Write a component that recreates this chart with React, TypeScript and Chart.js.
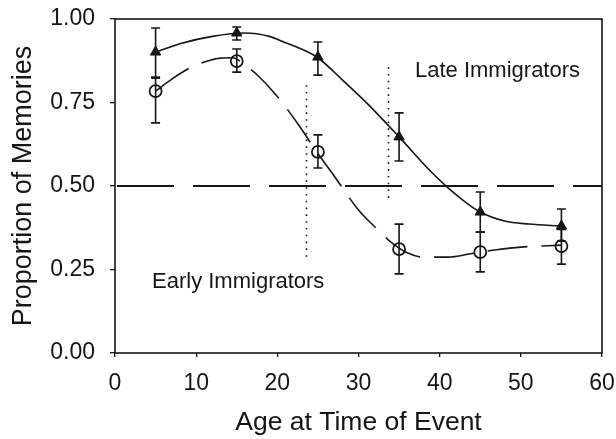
import { useEffect, useRef } from 'react';
import { Chart, registerables } from 'chart.js';

Chart.register(...registerables);

// ---- data ----
const ages = [5, 15, 25, 35, 45, 55];

const lateMean = [0.901, 0.958, 0.886, 0.647, 0.422, 0.38];
const lateLow = [0.823, 0.937, 0.832, 0.575, 0.362, 0.335];
const lateHigh = [0.973, 0.976, 0.931, 0.719, 0.482, 0.431];

const earlyMean = [0.784, 0.874, 0.602, 0.311, 0.302, 0.32];
const earlyLow = [0.689, 0.841, 0.554, 0.237, 0.243, 0.266];
const earlyHigh = [0.826, 0.91, 0.653, 0.386, 0.362, 0.37];

// fitted curves
const lateFitX = [5, 8, 12, 16, 19, 21, 23, 25, 28, 31, 35, 39, 41, 43, 45, 48, 51, 55];
const lateFitY = [0.901, 0.926, 0.948, 0.958, 0.948, 0.929, 0.91, 0.884, 0.818, 0.749, 0.647, 0.541, 0.495, 0.455, 0.422, 0.395, 0.386, 0.38];

const earlyFitX = [5, 7, 9.5, 11, 13, 14.5, 16, 17.5, 20, 22.5, 25, 27, 30, 32, 34, 36, 38, 41, 44, 47, 50, 55];
const earlyFitY = [0.784, 0.82, 0.857, 0.871, 0.883, 0.884, 0.862, 0.833, 0.768, 0.687, 0.597, 0.53, 0.428, 0.378, 0.332, 0.3, 0.287, 0.287, 0.298, 0.309, 0.317, 0.323];

const chanceLevel = 0.5;
const dividerX = [23.5, 33.6];
const dividerTop = [0.802, 0.856];
const dividerBottom = [0.287, 0.449];

const xTickValues = [0, 10, 20, 30, 40, 50, 60];
const yTickValues = [0, 0.25, 0.5, 0.75, 1.0];

const FONT = '"Liberation Sans", Arial, Helvetica, sans-serif';
const INK = '#161616';

const decor = {
  id: 'decor',
  beforeDatasetsDraw(chart: any) {
    const { ctx, scales } = chart;
    const x = scales.x;
    const y = scales.y;
    ctx.save();
    ctx.strokeStyle = INK;
    // chance line
    ctx.lineWidth = 1.8;
    ctx.setLineDash([57, 19]);
    ctx.lineDashOffset = -2;
    ctx.beginPath();
    ctx.moveTo(x.getPixelForValue(xTickValues[0]), y.getPixelForValue(chanceLevel));
    ctx.lineTo(x.getPixelForValue(xTickValues[xTickValues.length - 1]), y.getPixelForValue(chanceLevel));
    ctx.stroke();
    // dotted dividers
    ctx.lineDashOffset = 0;
    ctx.lineWidth = 1.6;
    ctx.setLineDash([1.6, 5.2]);
    for (let i = 0; i < dividerX.length; i++) {
      const px = Math.round(x.getPixelForValue(dividerX[i])) + 0.5;
      ctx.beginPath();
      ctx.moveTo(px, y.getPixelForValue(dividerTop[i]));
      ctx.lineTo(px, y.getPixelForValue(dividerBottom[i]));
      ctx.stroke();
    }
    // error bars
    ctx.setLineDash([]);
    ctx.lineWidth = 1.6;
    const cap = 4.5;
    const bars = (lo: number[], hi: number[]) => {
      for (let i = 0; i < ages.length; i++) {
        const px = x.getPixelForValue(ages[i]);
        const yl = y.getPixelForValue(lo[i]);
        const yh = y.getPixelForValue(hi[i]);
        ctx.beginPath();
        ctx.moveTo(px, yl);
        ctx.lineTo(px, yh);
        ctx.moveTo(px - cap, yl);
        ctx.lineTo(px + cap, yl);
        ctx.moveTo(px - cap, yh);
        ctx.lineTo(px + cap, yh);
        ctx.stroke();
      }
    };
    bars(lateLow, lateHigh);
    bars(earlyLow, earlyHigh);
    ctx.restore();
  },
  afterDraw(chart: any) {
    const { ctx, chartArea, scales } = chart;
    const x = scales.x;
    const y = scales.y;
    ctx.save();
    ctx.strokeStyle = INK;
    ctx.lineWidth = 1.6;
    ctx.setLineDash([]);
    ctx.strokeRect(chartArea.left, chartArea.top, chartArea.right - chartArea.left, chartArea.bottom - chartArea.top);
    ctx.fillStyle = INK;
    ctx.font = `22px ${FONT}`;
    ctx.textBaseline = 'alphabetic';
    ctx.textAlign = 'left';
    ctx.fillText('Late Immigrators', x.getPixelForValue(36.96), y.getPixelForValue(0.826));
    ctx.fillText('Early Immigrators', x.getPixelForValue(4.56), y.getPixelForValue(0.195));
    ctx.restore();
  },
};

export default function App() {
  const ref = useRef<HTMLCanvasElement | null>(null);

  useEffect(() => {
    if (!ref.current) return;
    const pts = (xs: number[], ys: number[]) => xs.map((v, i) => ({ x: v, y: ys[i] }));
    const chart = new Chart(ref.current, {
      type: 'scatter',
      data: {
        datasets: [
          {
            label: 'Late fit',
            data: pts(lateFitX, lateFitY),
            showLine: true,
            pointRadius: 0,
            borderColor: INK,
            borderWidth: 1.6,
            cubicInterpolationMode: 'monotone',
          },
          {
            label: 'Early fit',
            data: pts(earlyFitX, earlyFitY),
            showLine: true,
            pointRadius: 0,
            borderColor: INK,
            borderWidth: 1.6,
            borderDash: [40, 14],
            cubicInterpolationMode: 'monotone',
          },
          {
            label: 'Late Immigrators',
            data: pts(ages, lateMean),
            pointStyle: 'triangle',
            pointRadius: 6,
            backgroundColor: INK,
            borderColor: INK,
            borderWidth: 1,
          },
          {
            label: 'Early Immigrators',
            data: pts(ages, earlyMean),
            pointStyle: 'circle',
            pointRadius: 6,
            backgroundColor: 'rgba(0,0,0,0)',
            borderColor: INK,
            borderWidth: 1.8,
          },
        ],
      } as any,
      options: {
        responsive: false,
        animation: false,
        events: [],
        layout: { padding: { left: 0, right: 14, top: 19, bottom: 0 } },
        plugins: { legend: { display: false }, tooltip: { enabled: false } },
        scales: {
          x: {
            type: 'linear',
            min: 0,
            max: 60,
            afterFit: (s: any) => { s.height = 86; s.paddingLeft = 0; s.paddingRight = 0; },
            afterBuildTicks: (s: any) => { s.ticks = xTickValues.map((v) => ({ value: v })); },
            border: { display: false },
            grid: { display: true, drawOnChartArea: false, drawTicks: true, tickLength: 4, color: INK, lineWidth: 1.3 },
            ticks: { color: INK, font: { family: FONT, size: 23 }, padding: 13, maxRotation: 0 },
            title: { display: true, text: 'Age at Time of Event', color: INK, font: { family: FONT, size: 26.5 }, padding: { top: 0, bottom: 0 } },
          },
          y: {
            type: 'linear',
            min: 0,
            max: 1,
            afterFit: (s: any) => { s.width = 115; s.paddingTop = 0; s.paddingBottom = 0; },
            afterBuildTicks: (s: any) => { s.ticks = yTickValues.map((v) => ({ value: v })); },
            border: { display: false },
            grid: { display: true, drawOnChartArea: false, drawTicks: true, tickLength: 5, color: INK, lineWidth: 1.3 },
            ticks: { color: INK, font: { family: FONT, size: 23 }, padding: 15, callback: (v: any) => Number(v).toFixed(2) },
            title: { display: true, text: 'Proportion of Memories', color: INK, font: { family: FONT, size: 27 }, padding: { top: 7, bottom: 0 } },
          },
        },
      },
      plugins: [decor],
    } as any);
    return () => chart.destroy();
  }, []);

  return (
    <div style={{ position: 'absolute', left: 0, top: 0, width: 616, height: 439, background: '#fff' }}>
      <canvas ref={ref} width={616} height={439} />
    </div>
  );
}
